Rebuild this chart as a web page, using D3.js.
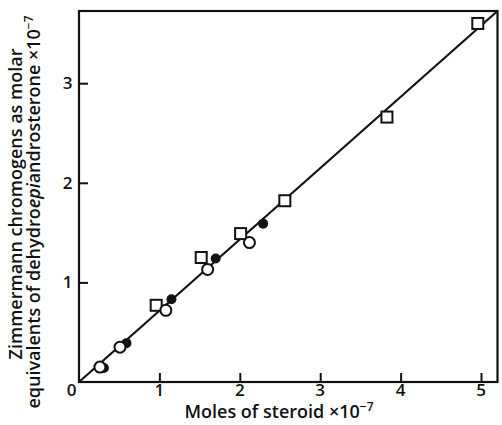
<!DOCTYPE html>
<html>
<head>
<meta charset="utf-8">
<script src="https://cdn.jsdelivr.net/npm/d3@7"></script>
<style>
  body { margin: 0; background: #fff; }
  svg text { font-family: "Open Sans", Lato, sans-serif; font-weight: 600; fill: #111; }
</style>
</head>
<body>
<svg id="chart" width="502" height="425"></svg>
<script>
// data: moles of steroid (x 1e-7) vs chromogens as DHA equivalents (x 1e-7)
var openCircles = [[0.26, 0.15], [0.51, 0.35], [1.08, 0.72], [1.60, 1.13], [2.12, 1.40]];
var filledCircles = [[0.31, 0.14], [0.59, 0.39], [1.15, 0.83], [1.70, 1.24], [2.29, 1.59]];
var squares = [[0.96, 0.77], [1.52, 1.25], [2.01, 1.49], [2.56, 1.82], [3.83, 2.66], [4.96, 3.60]];
var fitLine = [[0, 0], [5.205, 3.725]];
var xTicks = [1, 2, 3, 4, 5];
var yTicks = [1, 2, 3];

// layout
var svg = d3.select("#chart"),
    plotLeft = 79, plotRight = 497.5, plotTop = 11, plotBottom = 382,
    tickLen = 9;

var x = d3.scaleLinear().domain([0, 5.205]).range([plotLeft, plotRight]);
var y = d3.scaleLinear().domain([0, 3.725]).range([plotBottom, plotTop]);

// frame
svg.append("rect")
  .attr("x", plotLeft).attr("y", plotTop)
  .attr("width", plotRight - plotLeft).attr("height", plotBottom - plotTop)
  .attr("fill", "none").attr("stroke", "#111").attr("stroke-width", 2.2);

// ticks pointing inward
var xAxis = d3.axisTop(x).tickValues(xTicks).tickSize(tickLen).tickFormat("");
svg.append("g").attr("transform", "translate(0," + plotBottom + ")").call(xAxis)
  .call(function(g){ g.select(".domain").remove(); })
  .selectAll("line").attr("stroke", "#111").attr("stroke-width", 2);

var yAxis = d3.axisRight(y).tickValues(yTicks).tickSize(tickLen).tickFormat("");
svg.append("g").attr("transform", "translate(" + plotLeft + ",0)").call(yAxis)
  .call(function(g){ g.select(".domain").remove(); })
  .selectAll("line").attr("stroke", "#111").attr("stroke-width", 2);

// tick labels
svg.append("g").selectAll("text").data(xTicks).enter().append("text")
  .attr("x", function(d){ return x(d); })
  .attr("y", 395.5)
  .attr("text-anchor", "middle")
  .style("font-size", "17px")
  .text(function(d){ return d; });

svg.append("g").selectAll("text").data(yTicks).enter().append("text")
  .attr("x", 72.5)
  .attr("y", function(d){ return y(d) + 6; })
  .attr("text-anchor", "end")
  .style("font-size", "17px")
  .text(function(d){ return d; });

svg.append("text")
  .attr("x", 71.5).attr("y", 395.5)
  .attr("text-anchor", "middle")
  .style("font-size", "17px")
  .text("0");

// axis titles
var xTitle = svg.append("text")
  .attr("x", 279).attr("y", 418)
  .attr("text-anchor", "middle")
  .style("font-size", "18px");
xTitle.append("tspan").text("Moles of steroid \u00d710");
xTitle.append("tspan").attr("dy", -7).style("font-size", "12px").text("\u22127");

var yTitle = svg.append("text")
  .attr("transform", "translate(22,204) rotate(-90)")
  .attr("text-anchor", "middle")
  .style("font-size", "18px");
yTitle.append("tspan").text("Zimmermann chromogens as molar");
var line2 = svg.append("text")
  .attr("transform", "translate(40,212) rotate(-90)")
  .attr("text-anchor", "middle")
  .style("font-size", "18px");
line2.append("tspan").text("equivalents of dehydro");
line2.append("tspan").style("font-style", "italic").text("epi");
line2.append("tspan").text("androsterone \u00d710");
line2.append("tspan").attr("dy", -7).style("font-size", "12px").text("\u22127");

// regression line
svg.append("path")
  .datum(fitLine)
  .attr("d", d3.line().x(function(d){ return x(d[0]); }).y(function(d){ return y(d[1]); }))
  .attr("fill", "none").attr("stroke", "#111").attr("stroke-width", 2.2);

// markers
svg.append("g").selectAll("rect").data(squares).enter().append("rect")
  .attr("x", function(d){ return x(d[0]) - 5.5; })
  .attr("y", function(d){ return y(d[1]) - 5.5; })
  .attr("width", 11).attr("height", 11)
  .attr("fill", "#fff").attr("stroke", "#111").attr("stroke-width", 2);

svg.append("g").selectAll("circle").data(filledCircles).enter().append("circle")
  .attr("cx", function(d){ return x(d[0]); })
  .attr("cy", function(d){ return y(d[1]); })
  .attr("r", 5)
  .attr("fill", "#111");

svg.append("g").selectAll("circle").data(openCircles).enter().append("circle")
  .attr("cx", function(d){ return x(d[0]); })
  .attr("cy", function(d){ return y(d[1]); })
  .attr("r", 5.5)
  .attr("fill", "#fff").attr("stroke", "#111").attr("stroke-width", 2);
</script>
</body>
</html>
